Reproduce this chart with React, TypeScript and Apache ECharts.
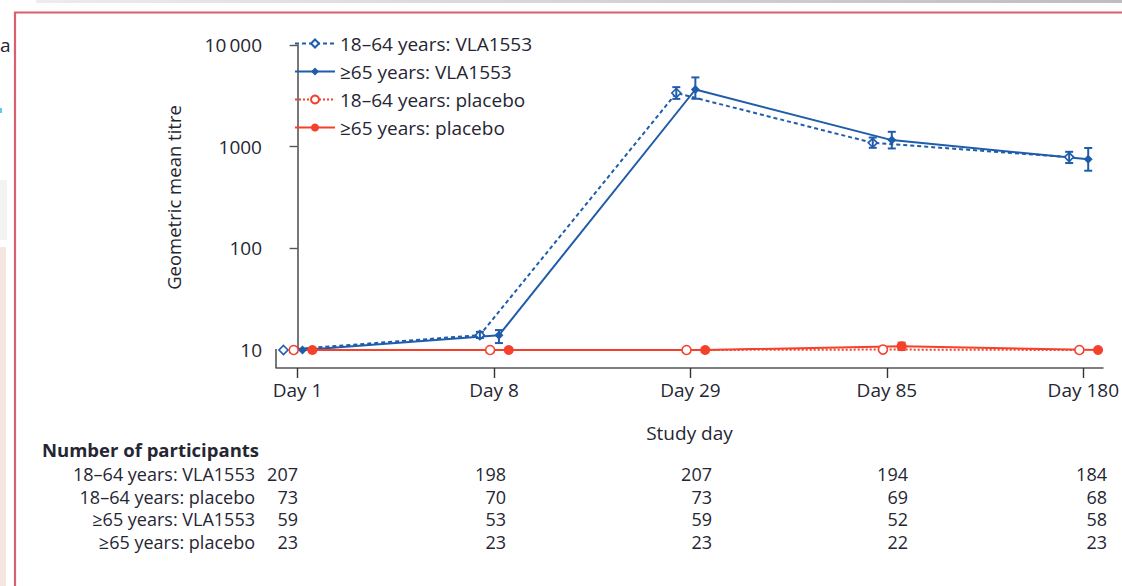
import React, { useEffect, useRef } from "react";
import * as echarts from "echarts";

const days = ["Day 1", "Day 8", "Day 29", "Day 85", "Day 180"];
const seriesNames = [
  "18–64 years: VLA1553",
  "≥65 years: VLA1553",
  "18–64 years: placebo",
  "≥65 years: placebo",
];
// geometric mean titres
const adultVla = [10, 14, 3370, 1090, 790];
const elderVla = [10, 14, 3650, 1160, 750];
const adultPlacebo = [10, 10, 10, 10.1, 10];
const elderPlacebo = [10, 10, 10, 10.9, 10];
// 95% CI lower / upper
const adultVlaLow = [10, 13.1, 2950, 975, 690];
const adultVlaHigh = [10, 15.1, 3850, 1230, 890];
const elderVlaLow = [10, 11.7, 2960, 960, 580];
const elderVlaHigh = [10, 15.7, 4800, 1400, 970];
const adultPlaceboLow = [10, 10, 10, 10.1, 10];
const adultPlaceboHigh = [10, 10, 10, 10.1, 10];
const elderPlaceboLow = [10, 10, 10, 10.0, 10];
const elderPlaceboHigh = [10, 10, 10, 11.8, 10];
// number of participants
const tableLabels = [
  "18–64 years: VLA1553",
  "18–64 years: placebo",
  "≥65 years: VLA1553",
  "≥65 years: placebo",
];
const nAdultVla = [207, 198, 207, 194, 184];
const nAdultPlacebo = [73, 70, 73, 69, 68];
const nElderVla = [59, 53, 59, 52, 58];
const nElderPlacebo = [23, 23, 23, 22, 23];
const yTicks = [10, 100, 1000, 10000];

// layout / style constants
const FONT = "'Open Sans', 'Noto Sans', sans-serif";
const FS = 19;
const TFS = 18;
const TEXT = "#262633";
const BLUE = "#1f5cab";
const RED = "#f5402c";
const DODGE = [-0.072, 0.025, -0.02, 0.075];
const COL_RIGHT = [298, 506, 712, 908, 1107];
const ROW_Y = [474, 497, 519, 542];

export default function App() {
  const ref = useRef<HTMLDivElement>(null);
  useEffect(() => {
    document.body.style.margin = "0";
    const chart = echarts.init(ref.current!, undefined, { renderer: "svg" });
    const values = [adultVla, elderVla, adultPlacebo, elderPlacebo];
    const lows = [adultVlaLow, elderVlaLow, adultPlaceboLow, elderPlaceboLow];
    const highs = [adultVlaHigh, elderVlaHigh, adultPlaceboHigh, elderPlaceboHigh];
    const colors = [BLUE, BLUE, RED, RED];
    const lineTypes: any[] = [[4, 3], "solid", [2, 2], "solid"];
    const symbols = ["diamond", "diamond", "circle", "circle"];
    const filled = [false, true, false, true];
    const sizes = [9, 9, 9, 10];

    const lineSeries = values.map((vals, s) => ({
      type: "line",
      name: seriesNames[s],
      data: vals.map((v, i) => [i + DODGE[s], v]),
      symbol: symbols[s],
      symbolSize: sizes[s],
      showSymbol: true,
      lineStyle: { color: colors[s], width: 2, type: lineTypes[s] },
      itemStyle: {
        color: filled[s] ? colors[s] : "#ffffff",
        borderColor: colors[s],
        borderWidth: filled[s] ? 0 : 1.6,
      },
      z: 3,
    }));

    const errSeries = values.map((vals, s) => ({
      type: "custom",
      name: seriesNames[s] + " CI",
      data: vals
        .map((_, i) => [i + DODGE[s], lows[s][i], highs[s][i]])
        .filter((d) => d[2] > d[1]),
      encode: { x: 0, y: [1, 2] },
      renderItem: (params: any, api: any) => {
        const x = api.value(0);
        const p1 = api.coord([x, api.value(1)]);
        const p2 = api.coord([x, api.value(2)]);
        const w = 4;
        const st = { stroke: colors[s], lineWidth: 2 };
        return {
          type: "group",
          children: [
            { type: "line", shape: { x1: p1[0], y1: p1[1], x2: p2[0], y2: p2[1] }, style: st },
            { type: "line", shape: { x1: p1[0] - w, y1: p1[1], x2: p1[0] + w, y2: p1[1] }, style: st },
            { type: "line", shape: { x1: p2[0] - w, y1: p2[1], x2: p2[0] + w, y2: p2[1] }, style: st },
          ],
        };
      },
      z: 4,
    }));

    const table: any[] = [];
    table.push({
      type: "text",
      x: 42,
      y: 449,
      style: { text: "Number of participants", font: `bold ${TFS + 0.5}px ${FONT}`, fill: TEXT, verticalAlign: "middle", lineHeight: 20 },
    });
    const counts = [nAdultVla, nAdultPlacebo, nElderVla, nElderPlacebo];
    tableLabels.forEach((lab, r) => {
      table.push({
        type: "text",
        x: 255,
        y: ROW_Y[r],
        style: { text: lab, font: `${TFS}px ${FONT}`, fill: TEXT, align: "right", verticalAlign: "middle", lineHeight: 20 },
      });
      counts[r].forEach((n, c) => {
        table.push({
          type: "text",
          x: COL_RIGHT[c],
          y: ROW_Y[r],
          style: { text: String(n), font: `${TFS}px ${FONT}`, fill: TEXT, align: "right", verticalAlign: "middle", lineHeight: 20 },
        });
      });
    });

    const decor: any[] = [
      {
        type: "rect",
        shape: { x: 36, y: 0, width: 1100, height: 3 },
        style: {
          fill: new echarts.graphic.LinearGradient(0, 0, 1, 0, [
            { offset: 0, color: "#ececec" },
            { offset: 1, color: "#bdbdbd" },
          ]),
        },
        silent: true,
      },
      {
        type: "rect",
        shape: { x: 15, y: 12.5, width: 1200, height: 700 },
        style: { fill: "none", stroke: "#d85f6e", lineWidth: 2.2 },
        silent: true,
      },
      { type: "rect", shape: { x: 0, y: 180, width: 7, height: 60 }, style: { fill: "#f3f3f3" } },
      { type: "rect", shape: { x: 0, y: 247, width: 6, height: 339 }, style: { fill: "#f5e6e2" } },
      { type: "rect", shape: { x: 0, y: 108, width: 2, height: 5 }, style: { fill: "#62c8f2" } },
      {
        type: "text",
        x: 0,
        y: 45,
        style: { text: "a", font: `${FS}px ${FONT}`, fill: TEXT, verticalAlign: "middle" },
      },
      // y-axis line extension down to the offset x-axis
      {
        type: "line",
        shape: { x1: 276, y1: 349, x2: 276, y2: 368 },
        style: { stroke: "#555", lineWidth: 1.6 },
      },
    ];

    chart.setOption({
      animation: false,
      backgroundColor: "#ffffff",
      textStyle: { fontFamily: FONT, color: TEXT },
      grid: { left: 276, right: 14, top: 45, bottom: 236, containLabel: false },
      legend: {
        orient: "vertical",
        left: 294,
        top: 34,
        padding: 0,
        itemWidth: 40,
        itemHeight: 10,
        itemGap: 9,
        data: seriesNames,
        textStyle: { fontSize: FS, color: TEXT, fontFamily: FONT },
      },
      xAxis: {
        type: "value",
        min: -0.11,
        max: 4.1,
        offset: 18,
        splitLine: { show: false },
        axisLine: { show: true, lineStyle: { color: "#555", width: 1.6 } },
        axisTick: { show: true, length: 10, customValues: [0, 1, 2, 3, 4], lineStyle: { color: "#333", width: 1.4 } },
        axisLabel: {
          customValues: [0, 1, 2, 3, 4],
          formatter: (v: number) => days[Math.round(v)],
          fontSize: FS,
          color: TEXT,
          fontFamily: FONT,
          margin: 12,
        },
        name: "Study day",
        nameLocation: "middle",
        nameGap: 55,
        nameTextStyle: { fontSize: FS, color: TEXT, fontFamily: FONT },
      },
      yAxis: {
        type: "log",
        logBase: 10,
        min: 10,
        max: 10000,
        splitLine: { show: false },
        axisLine: { show: true, lineStyle: { color: "#555", width: 1.6 } },
        axisTick: { show: true, length: 8, lineStyle: { color: "#555", width: 1.4 } },
        axisLabel: {
          formatter: (v: number) => (yTicks.includes(Math.round(v)) ? (Math.round(v) === 10000 ? "10\u2009000" : String(Math.round(v))) : ""),
          fontSize: FS,
          color: TEXT,
          fontFamily: FONT,
          margin: 14,
        },
        name: "Geometric mean titre",
        nameLocation: "middle",
        nameGap: 93,
        nameRotate: 90,
        nameTextStyle: { fontSize: 18.5, color: TEXT, fontFamily: FONT },
      },
      series: [...lineSeries, ...errSeries],
      graphic: [...decor, ...table],
    });
    return () => chart.dispose();
  }, []);
  return (
    <div
      ref={ref}
      style={{ position: "absolute", left: 0, top: 0, width: 1122, height: 586 }}
    />
  );
}
